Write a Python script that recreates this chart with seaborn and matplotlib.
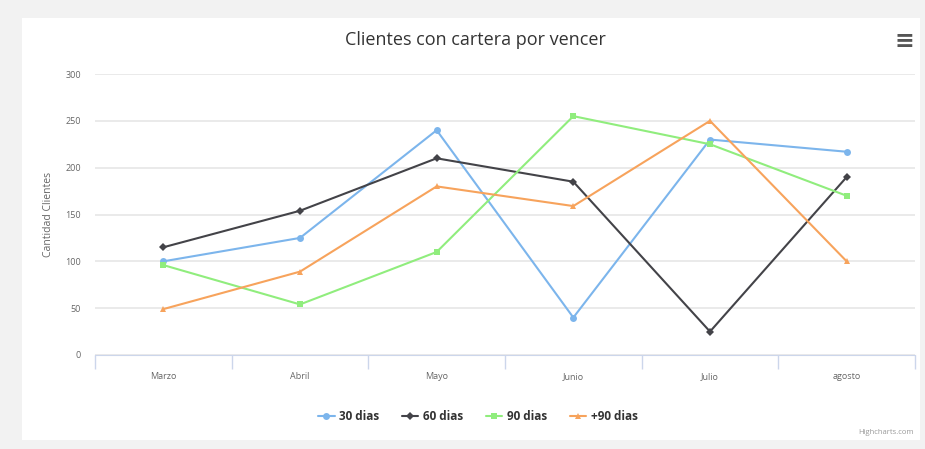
import matplotlib
matplotlib.use("Agg")
import matplotlib.pyplot as plt
import pandas as pd
import seaborn as sns
from matplotlib.patches import Rectangle

# datos del grafico
meses = ['Marzo', 'Abril', 'Mayo', 'Junio', 'Julio', 'agosto']
dias_30 = [100, 125, 240, 40, 230, 217]
dias_60 = [115, 154, 210, 185, 25, 190]
dias_90 = [96, 54, 110, 255, 225, 170]
dias_mas90 = [49, 89, 180, 159, 250, 100]
series = ['30 dias', '60 dias', '90 dias', '+90 dias']
y_ticks = [0, 50, 100, 150, 200, 250, 300]

colores = {'30 dias': '#7cb5ec', '60 dias': '#434348', '90 dias': '#90ed7d', '+90 dias': '#f7a35c'}
marcadores = {'30 dias': 'o', '60 dias': 'D', '90 dias': 's', '+90 dias': '^'}

filas = []
for nombre, valores in zip(series, [dias_30, dias_60, dias_90, dias_mas90]):
    for i, v in enumerate(valores):
        filas.append({'pos': i, 'mes': meses[i], 'serie': nombre, 'valor': v})
df = pd.DataFrame(filas)

sns.set_style('white')
plt.rcParams['font.family'] = ['Open Sans', 'DejaVu Sans']

fig = plt.figure(figsize=(9.25, 4.49), dpi=100)
fig.patch.set_facecolor('#f2f2f2')
# panel blanco
fig.patches.append(Rectangle((22 / 925, 1 - 440 / 449), 898 / 925, 422 / 449,
                             transform=fig.transFigure, facecolor='white', edgecolor='none', zorder=-10))

ax = fig.add_axes([95 / 925, 1 - 355 / 449, 820 / 925, 281 / 449])
ax.set_facecolor('white')
ax.set_zorder(1)

sns.lineplot(data=df, x='pos', y='valor', hue='serie', style='serie', hue_order=series,
             style_order=series, palette=colores, markers=marcadores, dashes=False,
             markersize=5, markeredgewidth=0, linewidth=1.5, ax=ax, legend=False)
# diamantes algo mas pequenos
for linea in ax.lines:
    if linea.get_marker() == 'D':
        linea.set_markersize(3.8)

ax.set_xlim(-0.5, 5.5)
ax.set_ylim(0, 300)
ax.set_yticks(y_ticks)
ax.set_yticklabels([str(t) for t in y_ticks], fontsize=6.5, color='#666666')
ax.set_xticks(range(len(meses)))
ax.set_xticklabels(meses, fontsize=6.5, color='#666666')
ax.tick_params(axis='both', length=0, pad=10)
ax.tick_params(axis='x', pad=12)
ax.set_xticks([i - 0.5 for i in range(len(meses) + 1)], minor=True)
ax.tick_params(axis='x', which='minor', bottom=True, length=10, color='#ccd6eb', width=1,
               direction='out')
ax.grid(axis='y', color='#e6e6e6', linewidth=1.2)
ax.set_axisbelow(True)
for lado in ['top', 'right', 'left']:
    ax.spines[lado].set_visible(False)
ax.spines['bottom'].set_color('#ccd6eb')
ax.set_xlabel('')
ax.set_ylabel('Cantidad Clientes', fontsize=7.5, color='#666666', labelpad=8)

fig.text(475 / 925, 1 - 40 / 449, 'Clientes con cartera por vencer', ha='center', va='center',
         fontsize=13, color='#333333')
fig.text(904 / 925, 1 - 41 / 449, '\u2261', ha='center', va='center', fontsize=17,
         color='#555555', fontweight='bold', family='DejaVu Sans')
fig.text(914 / 925, 1 - 433 / 449, 'Highcharts.com', ha='right', va='center', fontsize=5.5,
         color='#999999')

manijas = [plt.Line2D([], [], color=colores[s], marker=marcadores[s],
                      markersize=3.8 if marcadores[s] == 'D' else 5,
                      markeredgewidth=0, linewidth=1.5) for s in series]
fig.legend(manijas, series, loc='center', bbox_to_anchor=(478 / 925, 1 - 417 / 449), ncol=4,
           frameon=False, handlelength=1.4, handletextpad=0.4, columnspacing=1.9,
           prop={'size': 8.5, 'weight': 'bold'}, labelcolor='#333333')

fig.savefig('out.png', dpi=100, facecolor=fig.get_facecolor())
